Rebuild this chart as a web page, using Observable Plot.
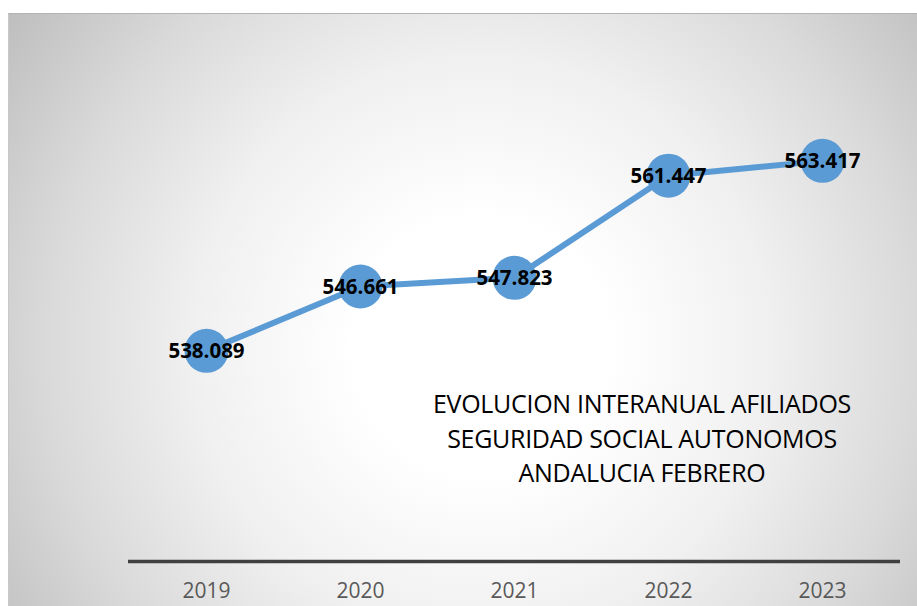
<!DOCTYPE html>
<html>
<head>
<meta charset="utf-8">
<script src="https://cdn.jsdelivr.net/npm/d3@7"></script>
<script src="https://cdn.jsdelivr.net/npm/@observablehq/plot@0.6"></script>
<style>
  html, body { margin: 0; padding: 0; background: #fff; }
  #wrap { position: relative; width: 917px; height: 606px; overflow: hidden; }
  #bg {
    position: absolute; left: 8px; top: 13px; right: 0; bottom: 0;
    border-top: 1px solid #b4b4b4; border-left: 1px solid #c8c8c8;
    background: radial-gradient(circle farthest-corner at 52% 56%, #ffffff 0%, #ffffff 22%, #f0f0f0 50%, #dadada 75%, #bebebe 100%);
  }
  #chart { position: absolute; left: 0; top: 0; }
  #title {
    position: absolute; left: 392px; width: 500px; top: 386px;
    text-align: center; font-family: "Open Sans", sans-serif; font-size: 25px;
    line-height: 34.5px; color: #000; white-space: nowrap; letter-spacing: -0.3px;
  }
</style>
</head>
<body>
<div id="wrap">
  <div id="bg"></div>
  <div id="chart"></div>
  <div id="title">EVOLUCION INTERANUAL AFILIADOS<br>SEGURIDAD SOCIAL AUTONOMOS<br>ANDALUCIA FEBRERO</div>
</div>
<script>
const years = ["2019", "2020", "2021", "2022", "2023"];
const afiliados = [538089, 546661, 547823, 561447, 563417];
const yDomain = [510000, 570000];

const data = years.map((y, i) => ({year: y, value: afiliados[i]}));
const es = d3.formatLocale({decimal: ",", thousands: ".", grouping: [3], currency: ["", " €"]});
const fmt = es.format(",d");

const chart = Plot.plot({
  width: 917,
  height: 606,
  marginLeft: 128,
  marginRight: 17,
  marginTop: 111,
  marginBottom: 45,
  style: {background: "transparent", overflow: "visible"},
  x: {type: "band", domain: years, padding: 0, label: null},
  y: {domain: yDomain, axis: null},
  marks: [
    Plot.axisX({tickSize: 0, tickPadding: 22, fontSize: 21, fill: "#595959", fontFamily: "Open Sans, sans-serif", label: null}),
    Plot.ruleY([yDomain[0]], {stroke: "#404040", strokeWidth: 3.5}),
    Plot.line(data, {x: "year", y: "value", stroke: "#5b9bd5", strokeWidth: 6, curve: "linear"}),
    Plot.dot(data, {x: "year", y: "value", r: 22, fill: "#5b9bd5", stroke: "none"}),
    Plot.text(data, {x: "year", y: "value", text: d => fmt(d.value), fontSize: 20.5, fontWeight: "bold", fontFamily: "Open Sans, sans-serif", fill: "#000", dy: 1})
  ]
});
document.getElementById("chart").appendChild(chart);
</script>
</body>
</html>
